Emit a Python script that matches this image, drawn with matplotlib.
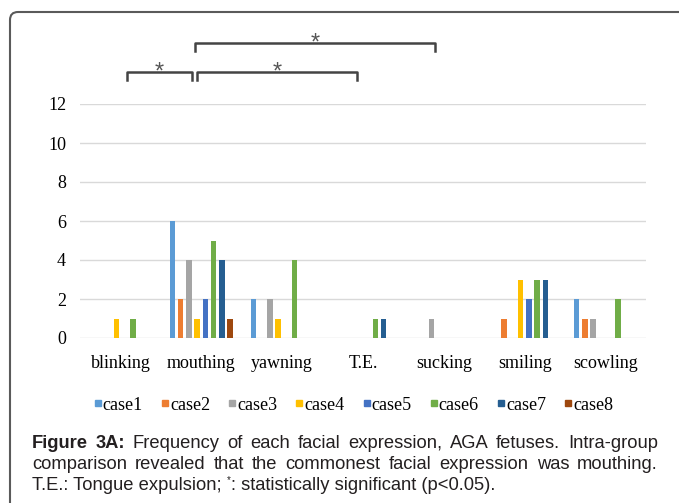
import matplotlib
matplotlib.use("Agg")
import matplotlib.pyplot as plt
from matplotlib.lines import Line2D
from matplotlib.patches import FancyBboxPatch
from matplotlib.transforms import IdentityTransform, blended_transform_factory
import numpy as np

# данные
categories = ["blinking", "mouthing", "yawning", "T.E.", "sucking", "smiling", "scowling"]
case_names = ["case1", "case2", "case3", "case4", "case5", "case6", "case7", "case8"]
case1 = [0, 6, 2, 0, 0, 0, 2]
case2 = [0, 2, 0, 0, 0, 1, 1]
case3 = [0, 4, 2, 0, 1, 0, 1]
case4 = [1, 1, 1, 0, 0, 3, 0]
case5 = [0, 2, 0, 0, 0, 2, 0]
case6 = [1, 5, 4, 1, 0, 3, 2]
case7 = [0, 4, 0, 1, 0, 3, 0]
case8 = [0, 1, 0, 0, 0, 0, 0]
series = [case1, case2, case3, case4, case5, case6, case7, case8]
colors = ["#5B9BD5", "#ED7D31", "#A5A5A5", "#FFC000",
          "#4472C4", "#70AD47", "#255E91", "#9E480E"]
y_ticks = [0, 2, 4, 6, 8, 10, 12]

# скобки значимости: (x слева, x справа, уровень)
brackets = [(0.08, 0.885, 0), (0.95, 2.93, 0), (0.92, 3.89, 1)]

W, H = 679, 503
fig = plt.figure(figsize=(W / 100, H / 100), dpi=100)
fig.patch.set_facecolor("white")

# рамка со скруглёнными углами
frame = FancyBboxPatch((10, -30), 720, H - 12 + 30,
                       boxstyle="round,pad=0,rounding_size=8",
                       transform=IdentityTransform(), facecolor="none",
                       edgecolor="#5a5a5a", linewidth=1.5)
fig.patches.append(frame)

ax = fig.add_axes([80 / W, (H - 338) / H, 566 / W, 234 / H])
x = np.arange(len(categories))
slot = 0.102
width = 0.068
for i, (vals, col) in enumerate(zip(series, colors)):
    ax.bar(x + (i - 3.5) * slot, vals, width, color=col, zorder=3)

ax.set_xlim(-0.5, len(categories) - 0.5)
ax.set_ylim(0, 12)
ax.set_yticks(y_ticks)
ax.set_xticks(x)
ax.set_xticklabels(categories)
ax.yaxis.grid(True, color="#d9d9d9", linewidth=1.0, zorder=0)
for s in ax.spines.values():
    s.set_visible(False)
ax.tick_params(axis="both", length=0, labelsize=13)
ax.tick_params(axis="y", pad=10)
ax.tick_params(axis="x", pad=12)
for lab in ax.get_xticklabels() + ax.get_yticklabels():
    lab.set_fontfamily("Liberation Serif")

# скобки со звёздочками
tr = blended_transform_factory(ax.transData, ax.transAxes)
levels = [1.137, 1.261]
for x0, x1, lvl in brackets:
    yb = levels[lvl]
    ax.plot([x0, x0, x1, x1], [yb - 0.035, yb, yb, yb - 0.035], color="#444444",
            linewidth=1.8, transform=tr, clip_on=False)
    ax.text((x0 + x1) / 2, yb - 0.03, "*", transform=tr, ha="center", va="baseline",
            fontsize=17, color="#555555", fontfamily="Liberation Sans")

# легенда
handles = [Line2D([], [], marker="s", linestyle="none", markersize=4.2, color=c)
           for c in colors]
fig.legend(handles, case_names, loc="center", bbox_to_anchor=(0.521, (H - 405) / H),
           ncol=8, frameon=False, handlelength=0.35, handletextpad=0.1,
           columnspacing=1.05, prop={"family": "Liberation Serif", "size": 13})

# подпись
renderer = fig.canvas.get_renderer()
cap_size = 13.2
cap_color = "#231f20"


def put_line(words, y, left=32, right=658, justify=True):
    texts = []
    for w, bold in words:
        t = fig.text(0, y / H, w, fontsize=cap_size, fontfamily="Liberation Sans",
                     fontweight="bold" if bold else "normal", color=cap_color,
                     va="baseline", ha="left", transform=fig.transFigure)
        texts.append(t)
    widths = [t.get_window_extent(renderer).width for t in texts]
    if justify:
        gap = (right - left - sum(widths)) / (len(texts) - 1)
    else:
        gap = cap_size * 100 / 72 * 0.278
    pos = left
    for t, wd in zip(texts, widths):
        t.set_x(pos / W)
        pos += wd + gap


line1 = [("Figure", True), ("3A:", True)] + [(w, False) for w in
        "Frequency of each facial expression, AGA fetuses. Intra-group".split()]
line2 = [(w, False) for w in
         "comparison revealed that the commonest facial expression was mouthing.".split()]
put_line(line1, H - 448)
put_line(line2, H - 469)

# третья строка с надстрочной звёздочкой
y3 = H - 490
t1 = fig.text(32 / W, y3 / H, "T.E.: Tongue expulsion;", fontsize=cap_size,
              fontfamily="Liberation Sans", color=cap_color, va="baseline")
w1 = t1.get_window_extent(renderer).width
sp = cap_size * 100 / 72 * 0.278
t2 = fig.text((32 + w1 + sp) / W, (y3 + 7) / H, "*", fontsize=7,
              fontfamily="Liberation Sans", color=cap_color, va="baseline")
w2 = t2.get_window_extent(renderer).width
fig.text((32 + w1 + sp + w2) / W, y3 / H, ": statistically significant (p<0.05).",
         fontsize=cap_size, fontfamily="Liberation Sans", color=cap_color, va="baseline")

fig.savefig("out.png", dpi=100)
